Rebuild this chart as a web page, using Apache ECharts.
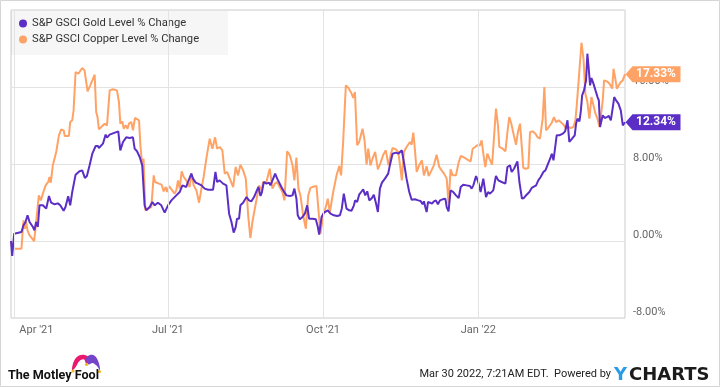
<!DOCTYPE html>
<html><head><meta charset="utf-8">
<script src="https://cdn.jsdelivr.net/npm/echarts@6/dist/echarts.min.js"></script>
<style>html,body{margin:0;padding:0;background:#fff}#c{width:720px;height:387px}</style>
</head><body><div id="c"></div>
<script>
const START_DATE = Date.UTC(2021, 2, 30); // Mar 30 2021 = day 0
const DAY = 86400000;
const seriesNames = ['S&P GSCI Gold Level % Change', 'S&P GSCI Copper Level % Change'];
const tickDays = [2, 93, 185, 277];
const tickLabels = ["Apr '21", "Jul '21", "Oct '21", "Jan '22"];
const yTicks = [-8, 0, 8, 16, 24];
// [day offset from Mar 30 2021, % change]
const goldData = [[0,0],[0.7,-1.56],[1.9,0.76],[2.7,0.93],[6.2,0.93],[7.4,1.63],[8.6,1.97],[9.8,2.67],[11,1.97],[13,1.45],[13.9,1.11],[14.9,1.97],[15.9,1.45],[16.9,3.71],[17.7,3.88],[18.9,3.71],[20.9,3.36],[22.5,4.68],[23.8,3.98],[25.8,3.81],[27.8,3.91],[29.2,3.71],[31.2,3.15],[32.3,3.53],[33.9,4.64],[35.1,3.71],[36.3,5.09],[38.3,6.89],[40.6,7.24],[42.2,7.34],[43.8,6.55],[45,6.75],[46.6,7.86],[48.2,9.07],[50.2,9.87],[51.5,9.87],[52.1,9.66],[54.5,10.11],[56.1,11.05],[56.9,10.74],[58.5,11.05],[59.6,11.25],[63.6,11.39],[64.8,9.42],[66.4,10.29],[68.3,10.77],[70.3,10.7],[72.3,10.77],[73.3,9.59],[74.7,9.32],[76.3,8.73],[77.8,7.86],[79.2,3.71],[80.2,3.19],[82.2,3.53],[83.8,4.05],[85.2,3.71],[87.1,3.98],[89.1,3.71],[90.1,3.71],[91.1,2.94],[93.1,3.71],[95.1,4.22],[98,4.74],[100,5.09],[101.6,5.78],[103.9,5.61],[104.9,6.13],[106.9,7],[107.9,6.48],[109.5,6.06],[110.9,5.96],[112.9,5.78],[114.8,5.44],[116.8,5.33],[119.8,5.33],[121.2,7.17],[122.2,6.13],[123.7,6.3],[124.7,6.3],[125.7,5.96],[127.7,5.78],[129.3,2.84],[130.7,1.97],[132,0.87],[133.2,1.45],[134,2.32],[135.2,2.32],[136,3.71],[137.6,3.98],[139.6,4.57],[141.1,4.22],[142.5,4.12],[144.1,4.57],[145.5,5.16],[146.7,5.61],[147.9,4.68],[148.7,5.02],[149.9,6.13],[151.4,5.96],[153,6.06],[153.8,5.78],[155,6.3],[155.8,6.13],[156.6,7],[157.8,6.48],[159,6.06],[160.3,5.61],[161.7,5.16],[163.3,4.74],[165.3,4.68],[166.9,4.74],[168,5.44],[169.2,4.4],[170,2.67],[171.2,2.25],[172.8,2.49],[174.2,2.84],[175.6,3.71],[176.7,2.32],[178.7,2.32],[180.7,2.25],[181.9,1.45],[182.7,0.66],[184.1,2.49],[185.5,2.94],[186.6,2.84],[187.8,3.19],[189.4,2.84],[191.4,2.67],[193.4,2.6],[195,2.67],[196.1,3.36],[197.3,4.92],[198.1,4.99],[198.9,3.36],[200.5,3.19],[201.9,3.15],[203.3,3.71],[204,4.22],[205.2,4.05],[206.4,4.81],[207.6,5.09],[208.8,5.37],[210,4.74],[211.2,5.16],[212.4,4.22],[214,4.47],[215.1,4.81],[216.3,3.98],[217.5,3.01],[218.7,5.44],[219.9,6.06],[221.7,6.48],[223.6,7],[224.6,7.86],[226.2,9.07],[228.2,9.18],[229.6,9.07],[231.7,9.42],[232.9,8.21],[234.5,6.48],[236.1,5.09],[237.5,4.29],[239.5,4.33],[241.4,4.22],[242.8,4.16],[244,3.81],[244.8,4.12],[245.6,3.53],[246.4,3.01],[247.2,4.05],[248.4,3.98],[249.6,3.88],[250.7,4.12],[251.9,4.22],[253.1,3.81],[254.3,4.22],[255.9,4.33],[257.5,4.4],[258.3,3.53],[259.4,3.08],[260.6,5.26],[262.2,5.09],[263.8,4.74],[265.4,4.47],[266.6,5.61],[268.1,5.85],[270.1,5.78],[272.1,5.71],[273.1,5.44],[274.1,5.78],[275.7,6.75],[277,6.13],[278.4,5.09],[280,6.48],[281.6,4.57],[282.8,5.09],[284,4.92],[285.9,5.26],[287.5,6.75],[288.9,6.3],[290.9,6.13],[293.1,5.96],[294.3,7.69],[295.8,7.86],[296.8,7.17],[298.2,7.51],[300.2,8.28],[301.4,6.13],[302.9,4.4],[304.1,4.47],[305.7,4.81],[307.3,5.09],[308.7,5.51],[309.7,5.37],[311.3,5.78],[312.6,6.3],[314,6.65],[315.6,7.17],[316.8,7.34],[318,7.86],[319.6,8.55],[320.6,9.07],[321.6,8.38],[322.5,9.59],[323.5,10.98],[325.1,10.98],[327.1,11.15],[328.5,11.39],[329.9,12.54],[331,10.29],[332.6,10.63],[334.2,10.98],[335,12.19],[335.8,12.71],[337,12.43],[337.8,13.47],[338.6,15.13],[339.7,15.65],[340.9,16.69],[341.7,19.46],[342.5,17.9],[343.3,16.17],[344.1,16.93],[345.3,16.35],[346.5,15.65],[347.7,14.96],[348.5,14.61],[349.2,11.84],[350,11.67],[350.8,13.06],[352,12.78],[353.2,12.88],[354.4,12.99],[355.6,12.54],[356.8,13.92],[357.6,14.96],[358.7,14.61],[360.1,14.27],[361.5,13.57],[362.7,12.02],[363.4,12.1],[364,12.34]];
const copperData = [[0,0],[0.7,-0.8],[1.9,-0.8],[6.2,-0.8],[7.4,2.15],[8.2,1.28],[9,1.97],[9.8,1.11],[11,0.59],[12.6,0.24],[13.7,-0.03],[14.9,1.97],[16.5,4.74],[17.7,4.22],[18.9,4.92],[20.5,5.78],[22.1,6.13],[22.8,6.65],[23.6,6.06],[24.8,7.86],[26.8,9.25],[28.4,10.98],[29.8,11.6],[31.2,11.5],[31.9,10.91],[34.3,10.91],[35.1,12.36],[36.3,12.54],[37.1,13.57],[38.3,17.56],[39.9,17.38],[41,17.49],[42.2,17.97],[43.6,17.73],[45.4,15.55],[47,16.17],[49.6,17.28],[50.5,13.4],[51.3,12.88],[52.1,11.6],[53.5,11.84],[55.5,12.19],[56.9,12.02],[58.5,15.65],[60.4,15.76],[62.8,15.65],[64,14.44],[64.8,12.19],[66,12.43],[66.8,11.67],[67.9,12.02],[69.1,11.67],[69.9,12.19],[71.3,12.36],[72.3,11.5],[73.5,12.78],[75.9,12.54],[76.7,9.94],[77.8,7.86],[78.6,8.55],[79.6,3.19],[81.2,3.36],[83.2,3.53],[84.6,6.82],[85.4,6.13],[87.7,5.96],[89.3,5.85],[90.5,5.16],[91.7,5.61],[92.5,5.09],[93.7,5.71],[95.6,5.26],[97,4.92],[98,5.26],[99,6.3],[100,5.44],[101.2,7.24],[102.4,6.65],[103.9,6.3],[105.9,5.61],[106.9,7],[108.3,5.78],[109.9,5.26],[111.5,3.98],[112.9,5.44],[114.2,6.65],[115.8,8.55],[117.8,10.63],[119.4,9.59],[121,10.77],[122.2,9.59],[123.7,9.77],[125.3,9.42],[126.7,7],[128.1,7.17],[129.7,6.48],[131.7,5.61],[133.2,7.69],[134.6,6.82],[136,7.93],[137.6,7.34],[139.2,6.48],[140.6,2.67],[141.9,0.31],[143.1,1.97],[145.1,3.88],[147.1,5.78],[148.5,5.26],[149.5,6.13],[151.4,6.13],[153.4,7.51],[155,5.44],[156.4,5.96],[157.8,6.13],[159.3,5.61],[160.9,5.09],[162.1,4.22],[163.7,9.32],[165.3,8.9],[166.9,7.86],[168,6.3],[169.2,8.66],[170.4,5.44],[171.6,4.74],[173.2,2.67],[174.8,1.28],[176.2,4.74],[177.5,5.51],[179.1,5.64],[181.1,5.71],[182.7,2.32],[183.5,0.76],[185.1,2.74],[186.6,3.53],[187.8,4.4],[189,2.94],[191,5.09],[193,6.82],[194.6,7.79],[195.7,6.82],[196.9,10.29],[198.5,16.17],[200.1,15.9],[201.9,15.31],[202.9,14.86],[203.9,15.48],[205.2,9.94],[206.4,10.29],[208.4,11.67],[209.6,10.46],[210.8,7.93],[211.8,9.59],[213.1,7.86],[214.3,8.55],[215.9,9.25],[217.5,7.45],[219.1,8.14],[220.7,8.97],[222.2,9.42],[223.8,7.86],[225,8.9],[226.2,9.66],[228.2,9.52],[229.6,9.25],[230.9,7.51],[231.7,6.3],[232.9,9.25],[234.5,9.77],[236.5,10.29],[237.5,10.01],[238.5,11.25],[239.5,9.42],[240.5,7.17],[242,7.86],[243.6,8.38],[244.8,6.82],[246.4,7.76],[247.6,6.75],[249.3,7.34],[250.7,7.86],[252.3,8.97],[253.9,7.69],[255.3,7.34],[256.7,7],[258.3,6.48],[259.4,3.88],[260.6,7.45],[261.8,6.82],[263.8,6.82],[265.2,8.03],[266.6,8.83],[268.1,8.73],[269.7,8.55],[271.3,8.38],[272.5,8.28],[273.7,9.59],[275.1,9.77],[276.4,9.94],[278,9.94],[279,10.46],[280,9.07],[281.2,7.69],[282.4,9.07],[283.6,8.55],[285.2,7.93],[286.3,10.63],[287.5,13.75],[288.7,12.02],[289.5,9.77],[291.5,9.59],[293.1,9.32],[294.3,11.32],[295.4,12.88],[296.6,12.19],[298.2,10.91],[299.4,10.01],[300.6,11.39],[301.8,12.19],[302.9,9.59],[303.7,7.58],[305.3,7.51],[306.7,7.58],[307.7,11.32],[309.3,11.39],[310.9,11.15],[312.1,10.8],[313.6,10.63],[315.2,12.71],[316.2,16],[317.2,11.5],[318.8,11.84],[320.6,12.29],[321.9,12.88],[323.1,12.36],[324.7,12.54],[326.3,12.29],[327.5,12.09],[329.1,11.67],[330.5,11.84],[331.8,11.74],[333.4,11.84],[334.6,12.54],[335.4,14.09],[336.6,16.86],[338.2,20.6],[339.4,18.94],[340.5,15.31],[341.7,14.44],[342.9,12.71],[344.1,14.96],[345.3,14.09],[346.5,13.23],[347.7,12.71],[348.9,11.84],[350,11.95],[350.8,14.61],[351.6,16.69],[353.2,16.59],[354.8,16.35],[356.4,15.83],[357.2,17.9],[358.4,16.69],[359.2,15.83],[360.3,16.17],[361.5,16.52],[362.7,16.69],[364,17.33]];

const GOLD = '#5b2fc6', COPPER = '#ffa266';
const toTs = d => START_DATE + d * DAY;
const toPts = arr => arr.map(p => [toTs(p[0]), p[1]]);
const FONT = 'Roboto, "Noto Sans", sans-serif';
const tagPath = 'path://M0,8L7,0L55,0L55,16L7,16Z';
function tag(arr, color) {
  const last = arr[arr.length - 1];
  return {
    silent: true, animation: false,
    symbol: tagPath, symbolSize: [55, 16], symbolOffset: [28, 0], symbolKeepAspect: false,
    itemStyle: { color: color },
    label: { show: true, position: 'inside', offset: [3, 0], color: '#fff', fontWeight: 'bold', fontSize: 12, fontFamily: FONT,
      formatter: p => p.value.toFixed(2) + '%' },
    data: [{ coord: [toTs(last[0]), last[1]], value: last[1] }]
  };
}

const chart = echarts.init(document.getElementById('c'), null, { renderer: 'canvas' });
chart.setOption({
  animation: false,
  backgroundColor: '#fff',
  grid: { left: 11, right: 95, top: 10, bottom: 69, show: true, borderColor: '#cccccc', borderWidth: 1, backgroundColor: 'transparent' },
  legend: {
    data: seriesNames, orient: 'vertical', left: 11, top: 11, icon: 'circle', itemWidth: 8, itemHeight: 8, itemGap: 5,
    padding: [7, 29, 10, 8], backgroundColor: 'rgba(0,0,0,0.035)', selectedMode: false,
    textStyle: { fontFamily: FONT, fontSize: 11.2, color: '#333' }
  },
  xAxis: {
    type: 'time', min: toTs(0), max: toTs(364),
    axisLine: { show: false }, axisTick: { show: false }, axisLabel: { show: false }, splitLine: { show: false }
  },
  yAxis: {
    type: 'value', position: 'right', min: yTicks[0], max: yTicks[yTicks.length - 1], interval: 8,
    axisLine: { show: false }, axisTick: { show: false },
    splitLine: { lineStyle: { color: '#e3e3e3', width: 1 } },
    axisLabel: { showMaxLabel: false, margin: 8, verticalAlign: 'bottom', color: '#666', fontSize: 11, fontFamily: FONT,
      formatter: v => v.toFixed(2) + '%' }
  },
  series: [
    {
      name: '__grid', type: 'line', data: [], silent: true, z: 1,
      markLine: {
        silent: true, animation: false, symbol: 'none',
        lineStyle: { color: '#e3e3e3', type: 'solid', width: 1 },
        label: { show: true, position: 'start', distance: 7, color: '#666', fontSize: 11, fontFamily: FONT, formatter: p => p.name },
        data: tickDays.map((d, i) => i === 0
          ? { xAxis: toTs(d), name: tickLabels[i], label: { align: 'left', padding: [0, 0, 0, 5] } }
          : { xAxis: toTs(d), name: tickLabels[i] })
      }
    },
    {
      name: seriesNames[1], type: 'line', data: toPts(copperData), showSymbol: false, clip: false, z: 3,
      lineStyle: { color: COPPER, width: 2 }, itemStyle: { color: COPPER },
      markPoint: tag(copperData, COPPER)
    },
    {
      name: seriesNames[0], type: 'line', data: toPts(goldData), showSymbol: false, clip: false, z: 4,
      lineStyle: { color: GOLD, width: 2 }, itemStyle: { color: GOLD },
      markPoint: tag(goldData, GOLD)
    }
  ],
  graphic: [
    { type: 'rect', silent: true, shape: { x: 0.5, y: 0.5, width: 719, height: 386 }, style: { fill: 'none', stroke: '#d5d5d5', lineWidth: 1 }, z: 0 },
    { type: 'polygon', silent: true, shape: { points: [[72,370],[74,361],[79,355.5],[85,355],[89,358],[86.5,364],[84,359.5],[79.5,361],[75,368]], smooth: 0.35 }, style: { fill: '#e8196f' } },
    { type: 'polygon', silent: true, shape: { points: [[86,358.5],[90,355],[95,356],[98.5,362],[100,370],[96.5,365.5],[92.5,363],[88.5,364.5]], smooth: 0.35 }, style: { fill: '#7445c8' } },
    { type: 'circle', silent: true, shape: { cx: 73, cy: 371, r: 1.6 }, style: { fill: '#f6b820' } },
    { type: 'circle', silent: true, shape: { cx: 86.5, cy: 364.5, r: 1.6 }, style: { fill: '#f6b820' } },
    { type: 'circle', silent: true, shape: { cx: 99.5, cy: 371.5, r: 1.6 }, style: { fill: '#f6b820' } },
    { type: 'text', silent: true, left: 8, top: 369, style: { text: 'The Motley Fool', fill: '#111', font: 'bold 12.6px Roboto, sans-serif' } },
    { type: 'text', silent: true, right: 109, top: 369, style: { text: 'Mar 30 2022, 7:21AM EDT.  Powered by', fill: '#222', font: '11px "Liberation Sans Narrow", Roboto, sans-serif' } },
    { type: 'text', silent: true, left: 614, top: 366, style: { text: 'Y', fill: '#2a9be6', font: 'bold 18px "DejaVu Sans", sans-serif' } },
    { type: 'text', silent: true, left: 629, top: 366, style: { text: 'CHARTS', fill: '#1b1b1b', font: 'bold 18px "DejaVu Sans", sans-serif' } }
  ]
});
</script></body></html>
